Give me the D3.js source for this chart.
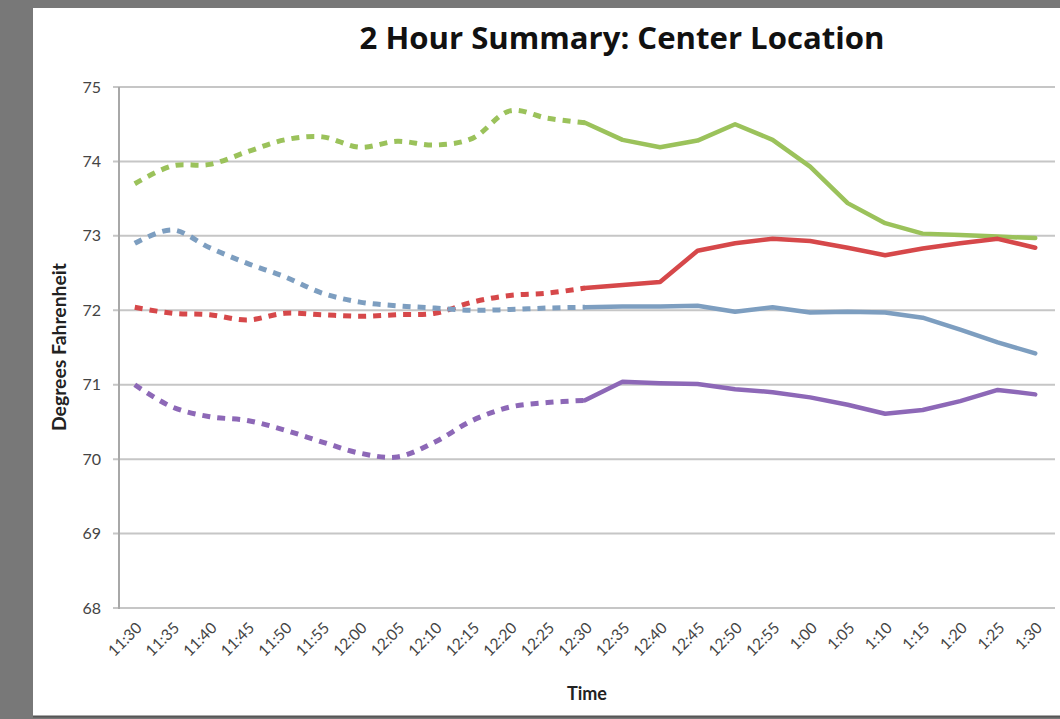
<!DOCTYPE html>
<html><head><meta charset="utf-8">
<script src="https://cdn.jsdelivr.net/npm/d3@7/dist/d3.min.js"></script>
<style>
html,body{margin:0;padding:0;background:#787878;}
svg{display:block;}
</style></head>
<body>
<script>
const times = ["11:30","11:35","11:40","11:45","11:50","11:55","12:00","12:05","12:10","12:15","12:20","12:25","12:30","12:35","12:40","12:45","12:50","12:55","1:00","1:05","1:10","1:15","1:20","1:25","1:30"];
const greenVals  = [73.70,73.94,73.96,74.13,74.29,74.33,74.19,74.27,74.22,74.31,74.68,74.58,74.52,74.29,74.19,74.28,74.50,74.29,73.93,73.44,73.17,73.03,73.01,72.99,72.97];
const redVals    = [72.04,71.96,71.94,71.87,71.96,71.94,71.92,71.94,71.96,72.11,72.20,72.23,72.30,72.34,72.38,72.80,72.90,72.96,72.93,72.84,72.74,72.83,72.90,72.96,72.84];
const blueVals   = [72.90,73.08,72.84,72.63,72.45,72.23,72.11,72.06,72.03,72.00,72.01,72.03,72.04,72.05,72.05,72.06,71.98,72.04,71.97,71.98,71.97,71.90,71.74,71.57,71.42];
const purpleVals = [71.00,70.70,70.57,70.52,70.39,70.23,70.08,70.03,70.23,70.52,70.70,70.76,70.79,71.04,71.02,71.01,70.94,70.90,70.83,70.73,70.61,70.66,70.78,70.93,70.87];
const yTicks = [68,69,70,71,72,73,74,75];
const splitIndex = 12; // dashed up to 12:30, solid afterwards
const seriesNames = ["green","red","blue","purple"];
const seriesColors = ["#9bc25b","#d6484a","#7d9ec0","#8d68b7"];

const W = 1060, H = 719;
const svg = d3.select("body").append("svg").attr("width", W).attr("height", H);

// white panel
svg.append("rect").attr("x", 33).attr("y", 8).attr("width", W - 33).attr("height", 708).attr("fill", "#ffffff");
svg.append("line").attr("x1", 33).attr("x2", W).attr("y1", 716.5).attr("y2", 716.5).attr("stroke", "#555").attr("stroke-width", 2);

const axisX = 119, plotR = 1055, plotT = 87, plotB = 608;
const x = d3.scalePoint().domain(times).range([116, 1054]).padding(0.5);
const y = d3.scaleLinear().domain([68, 75]).range([plotB, plotT]);

const fam = "Lato, 'Open Sans', sans-serif";

function fitText(sel, target) {
  const fs = +sel.attr("font-size");
  const w = sel.node().getComputedTextLength();
  sel.attr("font-size", fs * target / w);
}

// gridlines
svg.append("g").selectAll("line").data(yTicks).join("line")
  .attr("x1", axisX - 6).attr("x2", plotR)
  .attr("y1", d => y(d)).attr("y2", d => y(d))
  .attr("stroke", "#c6c6c6").attr("stroke-width", 2);

// y axis line
svg.append("line").attr("x1", axisX).attr("x2", axisX).attr("y1", plotT).attr("y2", plotB + 1)
  .attr("stroke", "#a8a8a8").attr("stroke-width", 2);

// y tick labels
svg.append("g").selectAll("text").data(yTicks).join("text")
  .attr("x", 101).attr("y", d => y(d)).attr("dy", "0.35em")
  .attr("text-anchor", "end")
  .attr("font-family", fam).attr("font-size", 16)
  .attr("fill", "#444").text(d => d);

// x tick labels
svg.append("g").selectAll("text").data(times).join("text")
  .attr("transform", d => `translate(${x(d) + 8},${629}) rotate(-45)`)
  .attr("text-anchor", "end")
  .attr("font-family", fam).attr("font-size", 15.5)
  .attr("fill", "#444").text(d => d);

// titles
const title = svg.append("text").attr("x", 622).attr("y", 49).attr("text-anchor", "middle")
  .attr("font-family", "'Open Sans', sans-serif").attr("font-weight", "bold").attr("font-size", 28)
  .attr("fill", "#111").text("2 Hour Summary: Center Location");
fitText(title, 525);

const xTitle = svg.append("text").attr("x", 587).attr("y", 700).attr("text-anchor", "middle")
  .attr("font-family", fam).attr("font-weight", "bold").attr("font-size", 15)
  .attr("fill", "#222").text("Time");
fitText(xTitle, 40);

const yTitle = svg.append("text").attr("transform", "translate(66,347) rotate(-90)").attr("text-anchor", "middle")
  .attr("font-family", fam).attr("font-weight", "bold").attr("font-size", 15)
  .attr("fill", "#222").text("Degrees Fahrenheit");
fitText(yTitle, 168);

// series
const allVals = [greenVals, redVals, blueVals, purpleVals];
const dashedLine = d3.line().x(d => x(d.t)).y(d => y(d.v)).curve(d3.curveCatmullRom.alpha(0.5));
const solidLine = d3.line().x(d => x(d.t)).y(d => y(d.v)).curve(d3.curveLinear);

const gLines = svg.append("g").attr("fill", "none").attr("stroke-linejoin", "round");
allVals.forEach((vals, k) => {
  const pts = vals.map((v, i) => ({t: times[i], v}));
  gLines.append("path").datum(pts.slice(0, splitIndex + 1))
    .attr("d", dashedLine).attr("stroke", seriesColors[k]).attr("stroke-width", 5)
    .attr("stroke-dasharray", "8,7");
  gLines.append("path").datum(pts.slice(splitIndex))
    .attr("d", solidLine).attr("stroke", seriesColors[k]).attr("stroke-width", 4.5)
    .attr("stroke-linecap", "round");
});
</script>
</body></html>
